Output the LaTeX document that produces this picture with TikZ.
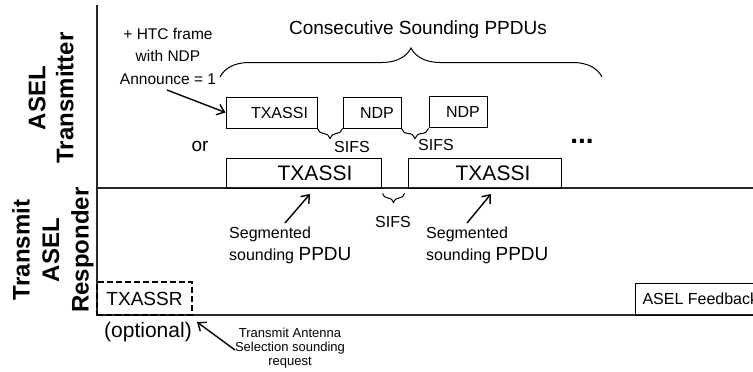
\documentclass[tikz,border=0pt]{standalone}
\usepackage{fontspec}
\setmainfont{Liberation Sans}
\usetikzlibrary{arrows.meta,decorations.pathreplacing}
\newcommand\myfs[2]{\fontsize{#1}{#2}\selectfont}
\begin{document}
\begin{tikzpicture}[x=1pt,y=-1pt,
  axisline/.style={line width=1.5pt,draw=black!85},
  box/.style={draw,line width=1pt,rectangle,inner sep=0pt},
  arr/.style={-{Straight Barb[length=7pt,width=11pt]},line width=1.4pt},
  bigbrace/.style={decorate,decoration={brace,amplitude=29pt},line width=1pt},
  smallbrace/.style={decorate,decoration={brace,amplitude=10pt},line width=1pt},
  lbl/.style={inner sep=0pt,align=center}]
\useasboundingbox (0,0) rectangle (753,372);
% axes
\coordinate (top) at (97,5);
\coordinate (corner) at (97,315);
\coordinate (rend) at (753,315);
\coordinate (midl) at (97,188);
\coordinate (midr) at (753,188);
\draw[axisline] (top) -- (corner) -- (rend);
\draw[axisline] (midl) -- (midr);
% lane labels
\node[lbl,rotate=90,font=\myfs{24}{28}\bfseries] (ltx) at (51,98) {ASEL\\Transmitter};
\node[lbl,rotate=90,font=\myfs{24}{29.5}\bfseries] (lrx) at (53,250) {Transmit\\ASEL\\Responder};
% top texts
\node[lbl,font=\myfs{19}{22}] (cons) at (418,30) {Consecutive Sounding PPDUs};
\node[lbl,font=\myfs{15.5}{22.5}] (htc) at (168,56) {+ HTC frame\\with NDP\\Announce = 1};
\node[lbl,font=\myfs{19}{22}] (or) at (200,146) {or};
\node[lbl,font=\myfs{28}{30}\bfseries,anchor=base] (dots) at (582,143) {...};
% upper boxes
\node[box,minimum width=91pt,minimum height=31pt,font=\myfs{16}{18}] (tx1) at (271.5,112.5) {\hspace*{16pt}TXASSI};
\node[box,minimum width=58pt,minimum height=31pt,font=\myfs{16}{18}] (nd1) at (372,112.5) {\hspace*{10pt}NDP};
\node[box,minimum width=58pt,minimum height=31pt,font=\myfs{16}{18}] (nd2) at (458,111.5) {\hspace*{10pt}NDP};
% big boxes
\node[box,minimum width=155pt,minimum height=30pt,font=\myfs{21}{22}] (T1) at (303.5,173) {\hspace*{23pt}\raisebox{-4pt}{TXASSI}};
\node[box,minimum width=153pt,minimum height=30pt,font=\myfs{21}{22}] (T2) at (484.5,173) {\hspace*{17pt}\raisebox{-4pt}{TXASSI}};
% braces
\draw[bigbrace] (220,77) -- (602,77);
\draw[smallbrace] (nd1.south west) -- (tx1.south east);
\draw[smallbrace] (nd1.south east -| nd2.south west) -- (nd1.south east);
\draw[smallbrace,decoration={amplitude=9pt}] ([yshift=-5pt,xshift=-3pt]T2.south west) -- ([yshift=-5pt,xshift=1pt]T1.south east);
\node[lbl,font=\myfs{16}{18},anchor=west] (s1) at (334,147) {SIFS};
\node[lbl,font=\myfs{16}{18},anchor=west] (s2) at (418,145) {SIFS};
\node[lbl,font=\myfs{16}{18}] (s3) at (393,222) {SIFS};
% arrow from HTC text
\coordinate (htcT) at (167,90);
\draw[arr] (htcT) -- (tx1.west);
% segmented labels
\node[lbl,font=\myfs{16}{22},align=left,anchor=west] (seg1) at (229,245) {Segmented\\sounding {\myfs{19}{22}PPDU}};
\node[lbl,font=\myfs{16}{22},align=left,anchor=west] (seg2) at (426,245) {Segmented\\sounding {\myfs{19}{22}PPDU}};
\coordinate (sa1t) at (285,223);
\coordinate (sa1h) at (310,194);
\coordinate (sa2t) at (467,223);
\coordinate (sa2h) at (491,194);
\draw[arr] (sa1t) -- (sa1h);
\draw[arr] (sa2t) -- (sa2h);
% responder boxes
\node[box,dash pattern=on 6pt off 3pt,line width=1.6pt,minimum width=95pt,minimum height=33pt,font=\myfs{19}{22}] (txassr) at (144.5,298.5) {\raisebox{-2pt}{TXASSR}};
\node[box,anchor=west,inner xsep=7pt,minimum height=32pt,font=\myfs{16}{20}] (fb) at (635,299) {ASEL Feedback};
% bottom texts
\node[lbl,font=\myfs{21}{24}] (opt) at (148,332) {(optional)};
\node[lbl,font=\myfs{13}{14}] (tas) at (290,348) {Transmit Antenna\\Selection sounding\\request};
\coordinate (ba_t) at (235,350);
\coordinate (ba_h) at (197,322);
\draw[arr] (ba_t) -- (ba_h);
\end{tikzpicture}
\end{document}
